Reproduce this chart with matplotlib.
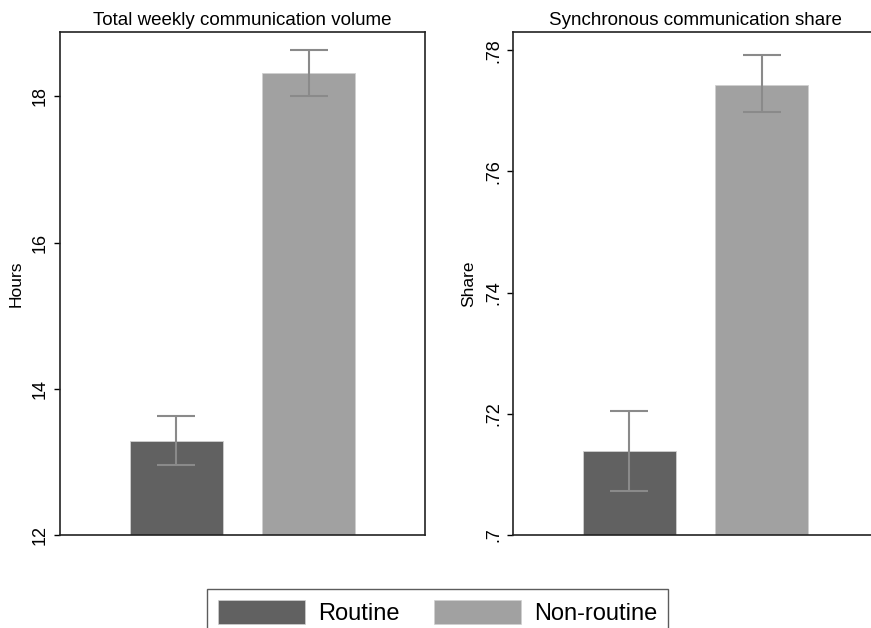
import matplotlib
matplotlib.use("Agg")
import matplotlib.pyplot as plt
from matplotlib.patches import Patch

plt.rcParams['font.family'] = ['Liberation Sans', 'DejaVu Sans']

# Data
groups = ['Routine', 'Non-routine']
colors = ['#616161', '#a1a1a1']

hours_mean = [13.29, 18.32]
hours_lo = [12.96, 18.00]
hours_hi = [13.63, 18.63]

share_mean = [0.7138, 0.7743]
share_lo = [0.7072, 0.7698]
share_hi = [0.7205, 0.7792]

hours_ticks = [12, 14, 16, 18]
hours_ticklabels = ['12', '14', '16', '18']
share_ticks = [0.70, 0.72, 0.74, 0.76, 0.78]
share_ticklabels = ['.7', '.72', '.74', '.76', '.78']

fig = plt.figure(figsize=(8.71, 6.28), dpi=100)

# Axes placed by hand; the right panel runs slightly past the figure edge
ax1 = fig.add_axes([60 / 871, 93 / 628, 365 / 871, 503 / 628])
ax2 = fig.add_axes([513 / 871, 93 / 628, 365 / 871, 503 / 628])

xpos = [0.319, 0.681]
bar_w = 0.254


def draw_panel(ax, means, lo, hi, ylim, ticks, ticklabels, title, ylabel):
    ax.bar(xpos, [m - ylim[0] for m in means], bottom=ylim[0], width=bar_w,
           color=colors, edgecolor='#d0d0d0', linewidth=0.6, zorder=2)
    for x, m, l, h in zip(xpos, means, lo, hi):
        ax.errorbar(x, m, yerr=[[m - l], [h - m]], fmt='none',
                    ecolor='#8a8a8a', elinewidth=1.5, capsize=13.5,
                    capthick=1.5, zorder=3)
    ax.set_xlim(0, 1)
    ax.set_ylim(*ylim)
    ax.set_xticks([])
    ax.set_yticks(ticks)
    ax.set_yticklabels(ticklabels, rotation=90, va='center', fontsize=13)
    ax.tick_params(axis='y', direction='out', length=4, width=1, pad=4)
    ax.set_ylabel(ylabel, fontsize=12.5, labelpad=6)
    ax.set_title(title, fontsize=13.5, pad=5)
    for side in ['left', 'bottom', 'top', 'right']:
        ax.spines[side].set_color('#222222')
        ax.spines[side].set_linewidth(1.2)


draw_panel(ax1, hours_mean, hours_lo, hours_hi, (12, 18.88),
           hours_ticks, hours_ticklabels,
           'Total weekly communication volume', 'Hours')
draw_panel(ax2, share_mean, share_lo, share_hi, (0.70, 0.783),
           share_ticks, share_ticklabels,
           'Synchronous communication share', 'Share')

# Shared legend at the bottom, box cut by the figure edge
handles = [Patch(facecolor=c, edgecolor='#d0d0d0', linewidth=0.5) for c in colors]
leg = fig.legend(handles, groups, loc='upper left',
                 bbox_to_anchor=(207 / 871, 1 - 589 / 628),
                 ncol=2, frameon=True, fontsize=17, handlelength=3.7,
                 handleheight=1.2, handletextpad=0.55, columnspacing=1.45,
                 borderpad=0.45, fancybox=False, borderaxespad=0)
leg.get_frame().set_edgecolor('#333333')
leg.get_frame().set_linewidth(1.0)

fig.savefig('out.png', dpi=100)
